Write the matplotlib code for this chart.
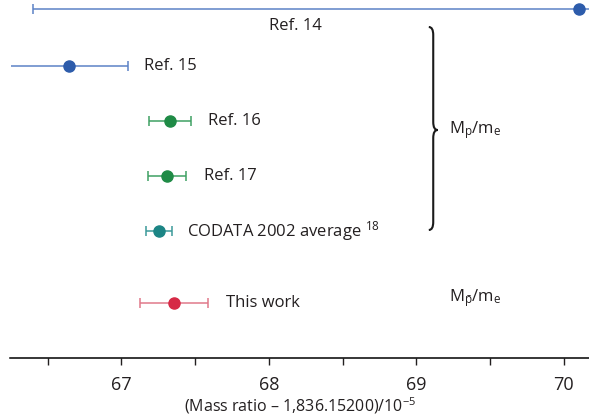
import numpy as np
import matplotlib
matplotlib.use("Agg")
import matplotlib.pyplot as plt
from matplotlib.path import Path
from matplotlib.patches import PathPatch

plt.rcParams['font.family'] = ['Open Sans', 'DejaVu Sans']
plt.rcParams['mathtext.fontset'] = 'custom'
plt.rcParams['mathtext.rm'] = 'Open Sans'
plt.rcParams['mathtext.it'] = 'Open Sans'
plt.rcParams['mathtext.default'] = 'regular'

# measurements: (mass ratio - 1836.15200) / 1e-5
labels = ['Ref. 14', 'Ref. 15', 'Ref. 16', 'Ref. 17', 'CODATA 2002 average $^{18}$', 'This work']
values = [70.10, 66.645, 67.33, 67.31, 67.255, 67.357]
errors = [3.70, 0.40, 0.14, 0.13, 0.09, 0.23]
rows = [9, 66, 121, 176, 231, 303]   # vertical position of each row (top = 0)
dot_colors = ['#2d5cab', '#2d5cab', '#1f8b46', '#1f8b46', '#1c8585', '#d62946']
bar_colors = ['#5c83c6', '#5c83c6', '#3ea063', '#3ea063', '#3c9a9a', '#e0798a']

fig = plt.figure(figsize=(5.89, 4.19), dpi=100)
ax = fig.add_axes([10.5 / 589, 61 / 419, 578.5 / 589, 358 / 419])
ax.set_xlim(66.248, 70.17)
ax.set_ylim(358, 0)

for v, e, y, dc, bc in zip(values, errors, rows, dot_colors, bar_colors):
    ax.errorbar(v, y, xerr=e, fmt='o', color=dc, ecolor=bc, elinewidth=1.1,
                capsize=3.6, capthick=1.1, markersize=8)

fs = 12
tc = '#231f20'
ax.text(68.18, rows[0] + 17, labels[0], ha='center', va='center', fontsize=fs, color=tc)
offsets = [0.11, 0.12, 0.12, 0.10, 0.12]
for lab, v, e, y, off in zip(labels[1:], values[1:], errors[1:], rows[1:], offsets):
    ax.text(v + e + off, y, lab, ha='left', va='center', fontsize=fs, color=tc)

# curly brace grouping the M_p/m_e measurements
bx = 69.114
dx = 0.03
top, mid, bot = 27, 130, 230
verts = [(bx - dx, top), (bx, top), (bx, top + 8), (bx, top + 8),
         (bx, mid - 8), (bx, mid - 8), (bx, mid), (bx + dx, mid),
         (bx, mid), (bx, mid + 8), (bx, mid + 8),
         (bx, bot - 8), (bx, bot - 8), (bx, bot), (bx - dx, bot)]
codes = [Path.MOVETO, Path.CURVE3, Path.CURVE3, Path.LINETO,
         Path.LINETO, Path.LINETO, Path.CURVE3, Path.CURVE3,
         Path.CURVE3, Path.CURVE3, Path.LINETO,
         Path.LINETO, Path.LINETO, Path.CURVE3, Path.CURVE3]
ax.add_patch(PathPatch(Path(verts, codes), fill=False, lw=1.5, color='#1a1a1a'))

ax.text(69.22, mid, r'M$_{\mathregular{p}}$/m$_{\mathregular{e}}$', ha='left', va='center', fontsize=fs, color=tc)
ax.text(69.22, 298, r'M$_{\bar{\mathregular{p}}}$/m$_{\mathregular{e}}$', ha='left', va='center', fontsize=fs, color=tc)

for s in ['top', 'left', 'right']:
    ax.spines[s].set_visible(False)
ax.spines['bottom'].set_linewidth(1.1)
ax.set_yticks([])
ax.set_xticks([67, 68, 69, 70])
ax.set_xticks([66.5, 67.5, 68.5, 69.5], minor=True)
ax.tick_params(axis='x', which='both', direction='out', length=5, width=1, labelsize=fs + 1,
               colors=tc, pad=8)
ax.set_xlabel('(Mass ratio \u2013 1,836.15200)/10$^{\u22125}$', fontsize=11.5, color=tc, labelpad=1)

fig.savefig('out.png', dpi=100)
